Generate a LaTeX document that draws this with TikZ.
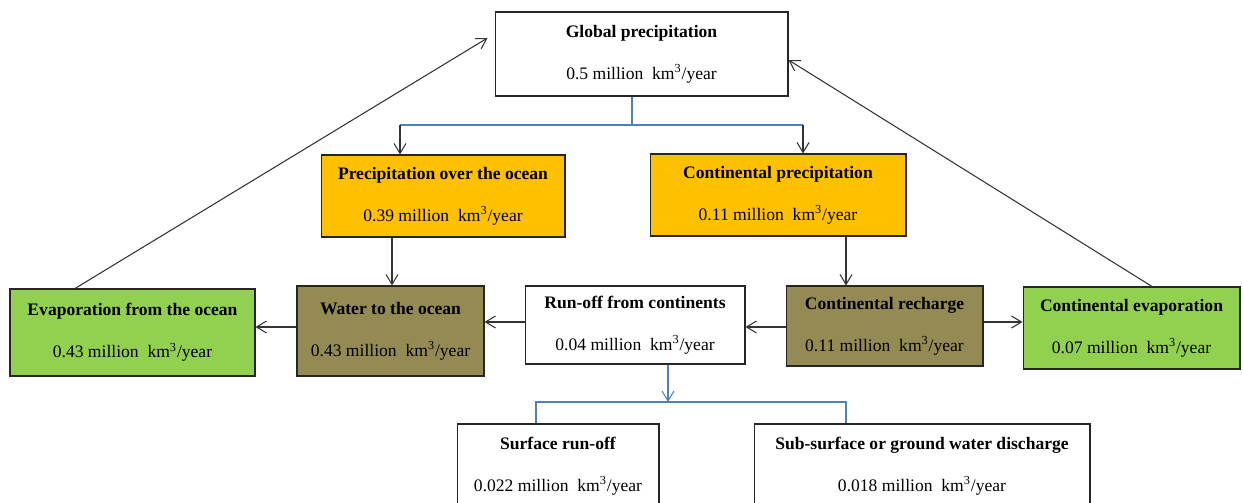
\documentclass[tikz,border=0pt]{standalone}
\usepackage{fontspec}
\setmainfont{Liberation Serif}
\usetikzlibrary{arrows.meta,calc}

\definecolor{gold}{HTML}{FFC000}
\definecolor{olive}{HTML}{948A54}
\definecolor{leaf}{HTML}{92D050}
\definecolor{wordblue}{HTML}{4F81BD}

\tikzset{
  box/.style={draw=black!85, line width=0.6pt, align=center, inner sep=0pt, font=\fontsize{10}{12}\selectfont},
  arr/.style={draw=black!80, line width=0.6pt, -{Straight Barb[length=2mm,width=2.4mm]}},
  split/.style={draw=wordblue, line width=0.6pt}
}
\newcommand{\flowtext}[2]{\textbf{#1}\\[11.8pt]#2 million\hspace{5pt}km\textsuperscript{3}/year}

\begin{document}
\begin{tikzpicture}[x=0.02cm,y=-0.02cm]
    \useasboundingbox (0,0) rectangle (1243,503);
    % top
    \node[box, minimum width=5.86cm, minimum height=1.68cm] (glob) at (641.5,54) {\flowtext{Global precipitation}{0.5}};
    \node[box, fill=gold, minimum width=4.88cm, minimum height=1.64cm] (pocean) at (443,196) {\flowtext{Precipitation over the ocean}{0.39}};
    \node[box, fill=gold, minimum width=5.12cm, minimum height=1.64cm] (pcont) at (778,195) {\flowtext{Continental precipitation}{0.11}};
    % middle row
    \node[box, fill=leaf, minimum width=4.9cm, minimum height=1.74cm] (evocean) at (132.5,332.5) {\flowtext{Evaporation from the ocean}{0.43}};
    \node[box, fill=olive, minimum width=3.74cm, minimum height=1.8cm] (wocean) at (390.5,331) {\flowtext{Water to the ocean}{0.43}};
    \node[box, minimum width=4.4cm, minimum height=1.56cm] (runoff) at (635,325) {\flowtext{Run-off from continents}{0.04}};
    \node[box, fill=olive, minimum width=3.94cm, minimum height=1.6cm] (recharge) at (884.5,326) {\flowtext{Continental recharge}{0.11}};
    \node[box, fill=leaf, minimum width=4.34cm, minimum height=1.64cm] (evcont) at (1131.5,328) {\flowtext{Continental evaporation}{0.07}};
    % bottom
    \node[box, minimum width=4.04cm, minimum height=1.68cm] (surf) at (558,466) {\flowtext{Surface run-off}{0.022}};
    \node[box, minimum width=6.72cm, minimum height=1.68cm] (subsurf) at (922,466) {\flowtext{Sub-surface or ground water discharge}{0.018}};

    % split under global precipitation
    \coordinate (splitL) at (400,125);
    \coordinate (splitR) at (803,125);
    \draw[split] (glob.south -| 632,0) -- (632,125);
    \draw[split] (splitL) -- (splitR);
    \draw[arr] (splitL) -- (splitL |- pocean.north);
    \draw[arr] (splitR) -- (splitR |- pcont.north);

    \draw[arr] (pocean.south -| 392,0) -- (wocean.north -| 392,0);
    \draw[arr] (pcont.south -| 846,0) -- (recharge.north -| 846,0);

    \draw[arr] (wocean.west |- 0,327) -- (evocean.east |- 0,327);
    \draw[arr] (runoff.west |- 0,322) -- (wocean.east |- 0,322);
    \draw[arr] (recharge.west |- 0,327) -- (runoff.east |- 0,327);
    \draw[arr] (recharge.east |- 0,322) -- (evcont.west |- 0,322);

    % evaporation back up
    \draw[arr] (evocean.north -| 75,0) -- ($(glob.west |- 0,38)+(-7,0)$);
    \draw[arr] (evcont.north -| 1152,0) -- (glob.east |- 0,60);

    % split under run-off
    \coordinate (subL) at (536,402);
    \coordinate (subR) at (846,402);
    \draw[split, -{Straight Barb[length=2mm,width=2.4mm]}] (runoff.south -| 668,0) -- (668,402);
    \draw[split] (subL |- surf.north) -- (subL) -- (subR) -- (subR |- subsurf.north);
\end{tikzpicture}
\end{document}
